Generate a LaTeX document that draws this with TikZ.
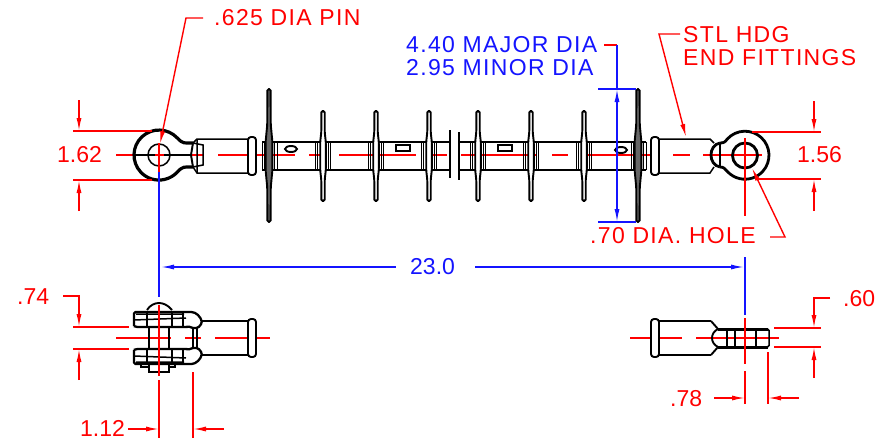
\documentclass[tikz,border=0pt]{standalone}
\usepackage{fontspec}
\setmainfont{Liberation Sans}
\newfontfamily\wordfont[LetterSpace=5.8]{Liberation Sans}
\newfontfamily\numfont{Liberation Sans}
\usetikzlibrary{arrows.meta}

\definecolor{cadred}{RGB}{255,0,0}
\definecolor{cadblue}{RGB}{20,20,255}

\tikzset{
	redline/.style={draw=cadred, line width=1.4pt},
	blueline/.style={draw=cadblue, line width=1.4pt},
	hairline/.style={draw=black, line width=1pt},
	thinline/.style={draw=black, line width=1.5pt},
	partline/.style={draw=black, line width=1.9pt},
	jawline/.style={draw=black, line width=2.3pt},
	heavyline/.style={draw=black, line width=3.2pt},
	redtip/.style={-{Latex[length=13pt,width=5pt]}},
	labelred/.style={text=cadred, inner sep=0pt, anchor=west, font=\fontsize{23}{23}\selectfont\wordfont},
	numred/.style={text=cadred, inner sep=0pt, anchor=west, font=\fontsize{23}{23}\selectfont\numfont},
	labelblue/.style={text=cadblue, inner sep=0pt, anchor=west, font=\fontsize{23}{23}\selectfont\wordfont},
	numblue/.style={text=cadblue, inner sep=0pt, anchor=west, font=\fontsize{23}{23}\selectfont\numfont}
}

\begin{document}
\begin{tikzpicture}[x=1pt, y=-1pt]
	\useasboundingbox (0,0) rectangle (892,442);

	% centre lines, under the parts
	\foreach \a/\b in {116/204, 218/295, 309/324, 339/416, 433/447, 461/537, 552/568, 584/658, 673/690, 703/762}
		\draw[redline] (\a,155) -- (\b,155);
	\foreach \a/\b in {116/171, 185/201, 215/270, 630/682, 696/779}
		\draw[redline] (\a,338) -- (\b,338);

	% shaft
	\draw[thinline] (262,142) -- (450,142) (262,170) -- (450,170);
	\draw[thinline] (459,142) -- (646,142) (459,170) -- (646,170);
	\draw[partline] (450,130) -- (450,178);
	\draw[partline] (459,132) -- (459,180);

	% small sheds
	\foreach \x in {323,376,429,478,531,584} {
		\draw[hairline] (\x-7.2,170) -- (\x-7.2,142) (\x-5.2,170) -- (\x-5.2,142);
		\draw[hairline] (\x+7.2,170) -- (\x+7.2,142) (\x+5.2,170) -- (\x+5.2,142);
		\draw[partline, fill=white, rounded corners=1.5pt] (\x-1.7,111) -- (\x-1.7,132) -- (\x-2.8,142) -- (\x-2.8,170) -- (\x-1.7,180) -- (\x-1.7,201) -- (\x+1.7,201) -- (\x+1.7,180) -- (\x+2.8,170) -- (\x+2.8,142) -- (\x+1.7,132) -- (\x+1.7,111) -- cycle;
	}

	% large sheds
	\foreach \x in {269,638} {
		\draw[hairline] (\x-7,170) -- (\x-7,142) (\x-4.5,170) -- (\x-4.5,142);
		\draw[hairline] (\x+8,170) -- (\x+8,142) (\x+5.5,170) -- (\x+5.5,142);
		\draw[partline, fill=black!60, rounded corners=1.5pt] (\x-1.6,89) -- (\x-1.8,125) -- (\x-3.4,142) -- (\x-3.4,170) -- (\x-1.8,187) -- (\x-1.6,222) -- (\x+1.6,222) -- (\x+1.8,187) -- (\x+3.4,170) -- (\x+3.4,142) -- (\x+1.8,125) -- (\x+1.6,89) -- cycle;
	}

	% marks on the shaft
	\draw[partline] (291,149) ellipse [x radius=6, y radius=3];
	\draw[partline] (621,150) ellipse [x radius=6, y radius=3];
	\draw[partline] (396,145) rectangle (410,151);
	\draw[partline] (498,145) rectangle (512,151);

	% left end fitting
	\draw[heavyline] (193,143) .. controls (184,143) and (183,144) .. (177.3,138) arc [start angle=-43, end angle=-317, radius=25] .. controls (183,166) and (184,167) .. (193,167);
	\draw[partline] (193,143) -- (191,155) -- (193,167);
	\draw[thinline] (159,155) circle [radius=11];
	\draw[thinline] (134,155) -- (155,155) (164,155) -- (192,155);
	\draw[thinline] (193,143) -- (197,139) -- (248,139) (193,167) -- (197,173) -- (248,173);
	\draw[thinline] (197,139) -- (197,173) (193,143) -- (203,145) -- (203,165) -- (193,167);
	\draw[partline, rounded corners=3pt, fill=white] (248,137) rectangle (256,175);

	% right end fitting
	\draw[heavyline, line width=2.8pt] (720,143) .. controls (724,143) and (725,142) .. (727.3,139) arc [start angle=222.5, end angle=497.5, radius=24] .. controls (725,169) and (724,167) .. (720,167);
	\draw[heavyline, line width=2.8pt] (745,155.5) circle [radius=12.5];
	\draw[heavyline, line width=2.8pt] (720,143) .. controls (708,145) and (708,165) .. (720,167);
	\draw[thinline] (720,143) -- (720,167);
	\draw[thinline] (659,139) -- (710,139) -- (714,143) (659,173) -- (710,173) -- (714,167);
	\draw[partline, rounded corners=3pt, fill=white] (651,137) rectangle (659,175);

	% clevis, front view
	\foreach \s in {1,-1} {
		\begin{scope}[shift={(0,338)}, yscale=\s]
			\draw[jawline, rounded corners=1.5pt] (134,-12) -- (134,-26) -- (190,-26) .. controls (196,-26) and (201,-21) .. (202,-15) -- (198,-10) -- (193,-10);
			\draw[jawline, rounded corners=1.5pt] (134,-12) -- (136,-11) -- (183,-11) .. controls (188,-11) and (191,-12) .. (193,-10);
			\draw[thinline] (134,-18) -- (186,-20) (136,-24) -- (184,-24);
			\draw[thinline] (172,-26) -- (172,-11) (183,-26) -- (183,-11) (147,-26) -- (147,-11);
			\draw[thinline] (202,-17) -- (248,-17);
		\end{scope}
	}
	\draw[thinline] (193,328) -- (193,348) (197,328) -- (197,348);
	\draw[partline] (149,327) -- (149,349) (169,327) -- (169,349);
	\draw[partline] (147,310) .. controls (150,305) and (155,303) .. (159,303) .. controls (163,303) and (168,305) .. (172,310);
	\draw[partline] (149,364) -- (149,372) -- (169,372) -- (169,364);
	\draw[thinline] (141,364) -- (141,367) -- (149,367) (169,367) -- (175,367) -- (175,364);
	\draw[partline, rounded corners=3pt, fill=white] (248,319) rectangle (256,357);

	% tongue, side view
	\draw[partline, rounded corners=3pt, fill=white] (651,319) rectangle (659,357);
	\draw[thinline] (659,321) -- (711,321) (659,355) -- (711,355);
	\draw[partline] (711,321) -- (718,329) (711,355) -- (718,347);
	\draw[partline] (718,329) .. controls (710,333) and (710,343) .. (718,347);
	\draw[heavyline, line width=3pt] (718,329) -- (768,329) (718,347) -- (768,347);
	\draw[thinline, rounded corners=1.5pt] (766,329) -- (769,329) -- (769,347) -- (766,347);
	\foreach \x in {727,735,756}
		\draw[thinline] (\x,329) -- (\x,347);

	% red work on top
	\draw[redline] (159,143) -- (159,172);
	\draw[redline] (159,305) -- (159,376) (159,380) -- (159,438);
	\draw[redline] (193,372) -- (193,438);
	\draw[redline] (745,138) -- (745,216);
	\draw[redline] (745,318) -- (745,364) (745,371) -- (745,404);
	\draw[redline] (768,352) -- (768,404);

	% dimension 1.62
	\node[numred] (dimEyeLeft) at (57,155) {1.62};
	\coordinate (eyeTop) at (152,131);
	\coordinate (eyeBottom) at (152,180);
	\draw[redline] (73,131) -- (eyeTop) (73,180) -- (eyeBottom);
	\draw[redline, redtip] (79,100) -- (79,131);
	\draw[redline, redtip] (79,211) -- (79,180);

	% dimension 1.56
	\node[numred] (dimEyeRight) at (797,155) {1.56};
	\draw[redline] (752,132) -- (821,132) (756,179) -- (821,179);
	\draw[redline, redtip] (814,101) -- (814,132);
	\draw[redline, redtip] (814,211) -- (814,179);

	% pin leader
	\node[labelred] (pinLabel) at (214,18) {.625 DIA PIN};
	\coordinate (pinBend) at (186,18);
	\coordinate (pinEnd) at (160,144);
	\draw[redline, redtip] (203,18) -- (pinBend) -- (pinEnd);

	% fittings leader
	\node[labelred] (fitLabelA) at (683,35) {STL HDG};
	\node[labelred] (fitLabelB) at (683,58) {END FITTINGS};
	\coordinate (fitBend) at (659,34);
	\coordinate (fitEnd) at (686,137);
	\draw[redline, redtip] (680,34) -- (fitBend) -- (fitEnd);

	% hole leader
	\node[labelred] (holeLabel) at (590,236) {.70 DIA. HOLE};
	\coordinate (holeBend) at (785,237);
	\coordinate (holeEnd) at (752,168);
	\draw[redline, redtip] (770,237) -- (holeBend) -- (holeEnd);

	% shed diameters
	\node[labelblue] (majorLabel) at (406,45) {4.40 MAJOR DIA};
	\node[labelblue] (minorLabel) at (406,68) {2.95 MINOR DIA};
	\draw[redline] (604,45) -- (617,45);
	\draw[blueline] (617,45) -- (617,89);
	\draw[blueline] (598,89) -- (636,89) (598,222) -- (636,222);
	\draw[blueline, {Latex[length=13pt,width=5pt]}-{Latex[length=13pt,width=5pt]}] (617,89) -- (617,222);

	% overall length
	\node[numblue] (lengthLabel) at (410,267) {23.0};
	\draw[blueline] (159,172) -- (159,297);
	\draw[blueline] (745,257) -- (745,315);
	\draw[blueline, {Latex[length=13pt,width=5pt]}-] (161,267) -- (396,267);
	\draw[blueline, -{Latex[length=13pt,width=5pt]}] (475,267) -- (744,267);

	% dimension .74
	\node[numred] (dimJaw) at (17,297) {.74};
	\draw[redline] (73,327) -- (129,327) (73,349) -- (129,349);
	\draw[redline, redtip] (63,296) -- (79,296) -- (79,327);
	\draw[redline, redtip] (79,380) -- (79,349);

	% dimension 1.12
	\node[numred] (dimPin) at (80,428) {1.12};
	\draw[redline, redtip] (128,429) -- (159,429);
	\draw[redline, redtip] (224,429) -- (193,429);

	% dimension .60
	\node[numred] (dimTongue) at (843,299) {.60};
	\draw[redline] (774,328) -- (821,328) (774,347) -- (821,347);
	\draw[redline, redtip] (830,298) -- (814,298) -- (814,328);
	\draw[redline, redtip] (814,378) -- (814,347);

	% dimension .78
	\node[numred] (dimHole) at (670,399) {.78};
	\draw[redline, redtip] (714,398) -- (745,398);
	\draw[redline, redtip] (799,398) -- (768,398);
\end{tikzpicture}
\end{document}
